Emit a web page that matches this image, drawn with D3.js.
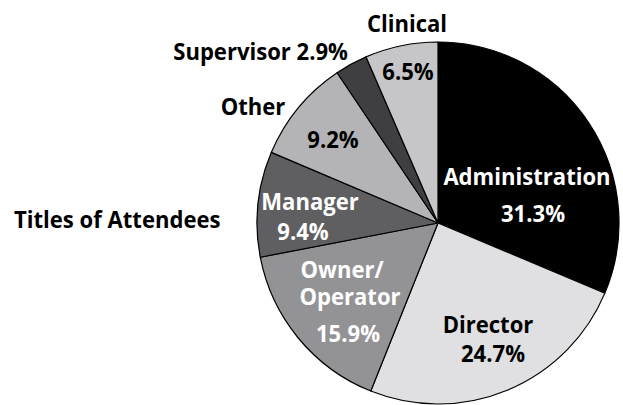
<!DOCTYPE html>
<html>
<head>
<meta charset="utf-8">
<script src="https://cdn.jsdelivr.net/npm/d3@7"></script>
<style>
  body { margin: 0; background: #fff; }
  text { font-family: "Open Sans", sans-serif; font-weight: 700; font-size: 24px; }
</style>
</head>
<body>
<svg id="chart" width="623" height="405"></svg>
<script>
// slice data, clockwise from 12 o'clock
let titles = ['Administration', 'Director', 'Owner/Operator', 'Manager', 'Other', 'Supervisor', 'Clinical'];
let shares = [31.3, 24.7, 15.9, 9.4, 9.2, 2.9, 6.5];
let fills = ['#000000', '#e0e0e2', '#939396', '#5f5f62', '#b4b4b6', '#3f3f41', '#c6c6c8'];

// label text lines per slice, and where they sit (offset from pie centre)
let labelLines = [
  [{t: 'Administration', dx: 89, dy: -38}, {t: '31.3%', dx: 95, dy: -1}],
  [{t: 'Director', dx: 50, dy: 110}, {t: '24.7%', dx: 55, dy: 139}],
  [{t: 'Owner/', dx: -96, dy: 55}, {t: 'Operator', dx: -88, dy: 82}, {t: '15.9%', dx: -90, dy: 119}],
  [{t: 'Manager', dx: -128, dy: -13}, {t: '9.4%', dx: -135, dy: 17}],
  [{t: 'Other', dx: -185, dy: -108}, {t: '9.2%', dx: -105, dy: -75}],
  [{t: 'Supervisor 2.9%', dx: -90, dy: -163, anchor: 'end'}],
  [{t: 'Clinical', dx: -31, dy: -191}, {t: '6.5%', dx: -30, dy: -143}]
];
let textColors = ['#fff', '#000', '#fff', '#fff', '#000', '#000', '#000'];
let outside = {Other: [0], Supervisor: [0], Clinical: [0]};

let svg = d3.select('#chart');
let cx = 438, cy = 223, r = 181;
let squeeze = 0.92; // the original face is narrower than Open Sans

let pie = d3.pie().sort(null).value(d => d);
let arc = d3.arc().innerRadius(0).outerRadius(r);
let arcs = pie(shares);

let g = svg.append('g').attr('transform', `translate(${cx},${cy})`);

g.selectAll('path')
  .data(arcs)
  .join('path')
  .attr('d', arc)
  .attr('fill', (d, i) => fills[i])
  .attr('stroke', '#000')
  .attr('stroke-width', 1.2)
  .attr('stroke-linejoin', 'round');

titles.forEach((name, i) => {
  let out = outside[name] || [];
  labelLines[i].forEach((ln, j) => {
    g.append('text')
      .attr('transform', `translate(${ln.dx},${ln.dy}) scale(${squeeze},1)`)
      .attr('text-anchor', ln.anchor || 'middle')
      .attr('fill', out.includes(j) ? '#000' : textColors[i])
      .text(ln.t);
  });
});

svg.append('text')
  .attr('transform', `translate(14,228) scale(${squeeze},1)`)
  .text('Titles of Attendees');
</script>
</body>
</html>
